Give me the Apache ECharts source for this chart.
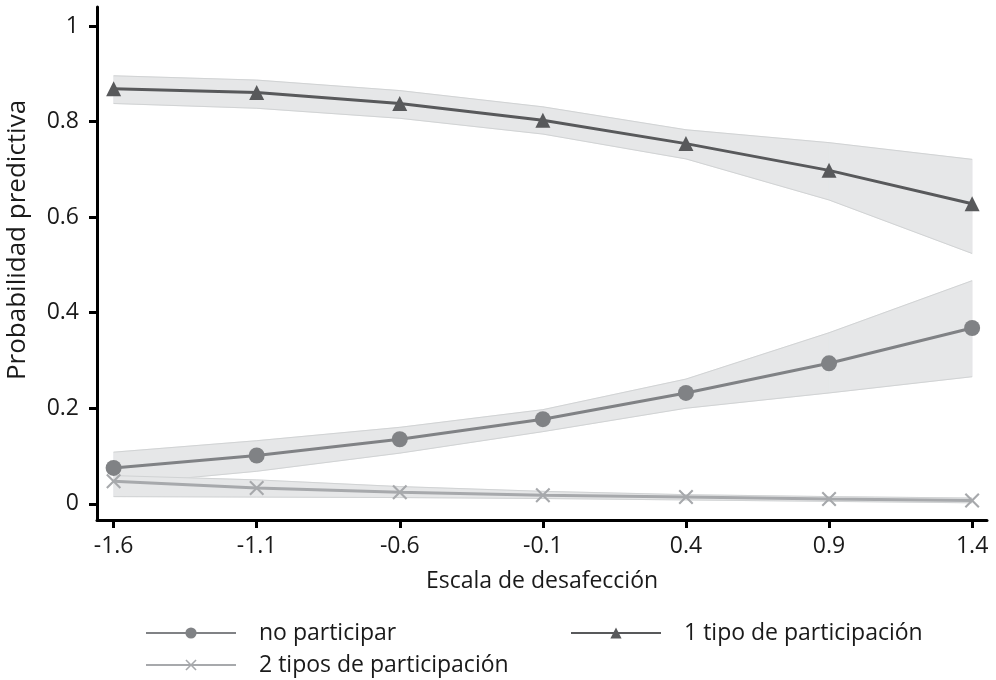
<!DOCTYPE html>
<html>
<head>
<meta charset="utf-8">
<script src="https://cdn.jsdelivr.net/npm/echarts@6/dist/echarts.min.js"></script>
<style>html,body{margin:0;padding:0;background:#fff;}#c{width:996px;height:680px;}</style>
</head>
<body>
<div id="c"></div>
<script>
// Data
const xValues = [-1.6, -1.1, -0.6, -0.1, 0.4, 0.9, 1.4];
const xTicks = [-1.6, -1.1, -0.6, -0.1, 0.4, 0.9, 1.4];
const yTicks = [0, 0.2, 0.4, 0.6, 0.8, 1];

const noPart      = [0.075, 0.101, 0.135, 0.177, 0.232, 0.294, 0.368];
const noPartLow   = [0.040, 0.068, 0.106, 0.151, 0.200, 0.232, 0.266];
const noPartHigh  = [0.108, 0.132, 0.160, 0.197, 0.261, 0.358, 0.467];

const uno         = [0.869, 0.861, 0.838, 0.803, 0.754, 0.698, 0.628];
const unoLow      = [0.838, 0.828, 0.807, 0.774, 0.722, 0.636, 0.524];
const unoHigh     = [0.896, 0.887, 0.865, 0.831, 0.783, 0.756, 0.721];

const dos         = [0.047, 0.033, 0.024, 0.018, 0.014, 0.010, 0.007];
const dosLow      = [0.015, 0.014, 0.013, 0.011, 0.008, 0.005, 0.002];
const dosHigh     = [0.059, 0.050, 0.036, 0.026, 0.019, 0.015, 0.012];

const names = ['no participar', '1 tipo de participación', '2 tipos de participación'];
const xTitle = 'Escala de desafección';
const yTitle = 'Probabilidad predictiva';

const FONT = 'Open Sans';
const TXT = '#1a1a1a';
const bandFill = '#e6e7e8';
const bandEdge = '#d1d3d4';

function pairs(arr) { return xValues.map((x, i) => [x, arr[i]]); }
function segments(lo, hi) {
  return xValues.slice(0, -1).map((x, i) => [x, lo[i], hi[i], xValues[i + 1], lo[i + 1], hi[i + 1]]);
}

function bandSeries(id, lo, hi, zBase) {
  return [
    {
      type: 'custom', name: id + '_fill', silent: true, z: zBase,
      data: segments(lo, hi),
      encode: { x: [0, 3], y: [1, 2, 4, 5] },
      renderItem: function (params, api) {
        const p0 = api.coord([api.value(0), api.value(1)]);
        const p1 = api.coord([api.value(3), api.value(4)]);
        const p2 = api.coord([api.value(3), api.value(5)]);
        const p3 = api.coord([api.value(0), api.value(2)]);
        return {
          type: 'polygon',
          shape: { points: [p0, p1, p2, p3] },
          style: { fill: bandFill, stroke: bandFill, lineWidth: 0.8 }
        };
      }
    },
    {
      type: 'line', name: id + '_lo', data: pairs(lo), symbol: 'none', silent: true, z: zBase + 1,
      lineStyle: { color: bandEdge, width: 1 }
    },
    {
      type: 'line', name: id + '_hi', data: pairs(hi), symbol: 'none', silent: true, z: zBase + 1,
      lineStyle: { color: bandEdge, width: 1 }
    }
  ];
}

const crossPath = 'path://M0,2 L2,0 L10,8 L18,0 L20,2 L12,10 L20,18 L18,20 L10,12 L2,20 L0,18 L8,10 Z';

const legendText = { fontFamily: FONT, fontSize: 23, color: TXT, lineHeight: 26, padding: [0, 0, 0, 18] };

const option = {
  animation: false,
  backgroundColor: '#ffffff',
  textStyle: { fontFamily: FONT },
  grid: { left: 97, right: 9, top: 7, bottom: 160, containLabel: false },
  xAxis: {
    type: 'value', min: -1.658, max: 1.452,
    name: xTitle, nameLocation: 'middle', nameGap: 50,
    nameTextStyle: { fontFamily: FONT, fontSize: 23, color: TXT },
    axisLine: { show: true, onZero: false, lineStyle: { color: '#000', width: 3 } },
    axisTick: { show: true, length: 8, lineStyle: { color: '#000', width: 3 }, customValues: xTicks },
    axisLabel: { fontFamily: FONT, fontSize: 23, color: TXT, margin: 15, customValues: xTicks,
      formatter: v => String(+v.toFixed(1)) },
    splitLine: { show: false }
  },
  yAxis: {
    type: 'value', min: -0.034, max: 1.04,
    axisLine: { show: true, onZero: false, lineStyle: { color: '#000', width: 3 } },
    axisTick: { show: true, length: 8, lineStyle: { color: '#000', width: 3 }, customValues: yTicks },
    axisLabel: { fontFamily: FONT, fontSize: 23, color: TXT, margin: 18, customValues: yTicks,
      formatter: v => String(+v.toFixed(1)) },
    splitLine: { show: false }
  },
  graphic: [
    {
      type: 'text', x: 18, y: 240, rotation: Math.PI / 2, silent: true,
      style: { text: yTitle, fontFamily: FONT, fontSize: 26, fill: TXT, align: 'center', verticalAlign: 'middle' }
    }
  ],
  legend: [
    { data: [names[0]], left: 145, top: 620, padding: 0, itemWidth: 90, itemHeight: 14, textStyle: legendText },
    { data: [names[1]], left: 570, top: 620, padding: 0, itemWidth: 90, itemHeight: 14, textStyle: legendText },
    { data: [names[2]], left: 145, top: 652, padding: 0, itemWidth: 90, itemHeight: 14, textStyle: legendText }
  ],
  series: [
    ...bandSeries('b1', unoLow, unoHigh, 1),
    ...bandSeries('b0', noPartLow, noPartHigh, 3),
    ...bandSeries('b2', dosLow, dosHigh, 5),
    {
      type: 'line', name: names[2], data: pairs(dos), z: 10,
      symbol: crossPath, symbolSize: 15,
      itemStyle: { color: '#a7a9ac' },
      lineStyle: { color: '#a7a9ac', width: 3 }
    },
    {
      type: 'line', name: names[0], data: pairs(noPart), z: 11,
      symbol: 'circle', symbolSize: 16,
      itemStyle: { color: '#808285' },
      lineStyle: { color: '#808285', width: 3 }
    },
    {
      type: 'line', name: names[1], data: pairs(uno), z: 12,
      symbol: 'triangle', symbolSize: 15,
      itemStyle: { color: '#58595b' },
      lineStyle: { color: '#58595b', width: 3 }
    }
  ]
};

const chart = echarts.init(document.getElementById('c'), null, { renderer: 'canvas' });
chart.setOption(option);
</script>
</body>
</html>
